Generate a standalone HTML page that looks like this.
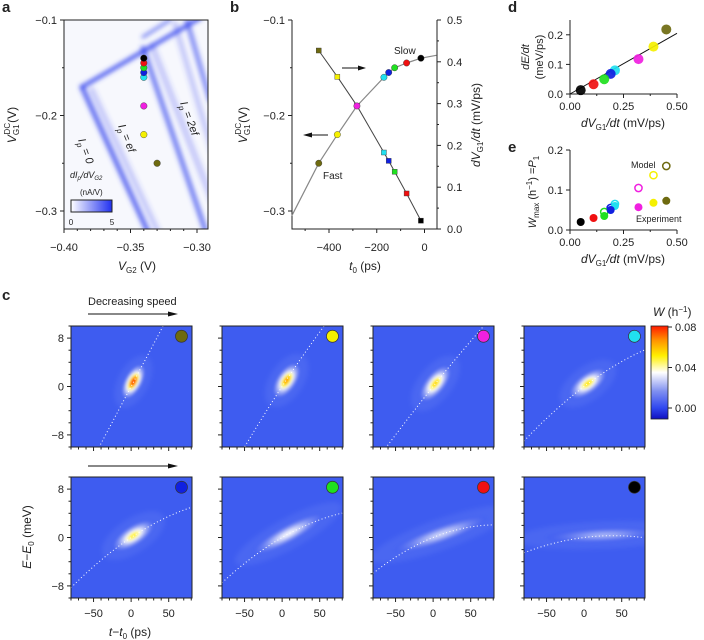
<!DOCTYPE html>
<html><head><meta charset="utf-8"><style>
html,body{margin:0;padding:0;background:#fff;}
svg{display:block;font-family:"Liberation Sans",sans-serif;}
text{fill:#222;}
</style></head><body>
<svg id="fig" width="704" height="640" viewBox="0 0 704 640" xmlns="http://www.w3.org/2000/svg">
<defs>
<filter id="blur1" x="-20%" y="-20%" width="140%" height="140%"><feGaussianBlur stdDeviation="1.2"/></filter>
<filter id="blur2" x="-20%" y="-20%" width="140%" height="140%"><feGaussianBlur stdDeviation="2.4"/></filter>
<linearGradient id="cbA" x1="0" x2="1" y1="0" y2="0"><stop offset="0" stop-color="#fff"/><stop offset="1" stop-color="#2030f0"/></linearGradient>
<linearGradient id="cbC" x1="0" x2="0" y1="1" y2="0">
<stop offset="0" stop-color="#1010c0"/><stop offset="0.12" stop-color="#3048f0"/><stop offset="0.3" stop-color="#8090f0"/>
<stop offset="0.5" stop-color="#ffffff"/><stop offset="0.68" stop-color="#fff000"/><stop offset="0.85" stop-color="#ff9000"/><stop offset="1" stop-color="#ff1a00"/></linearGradient>
</defs>
<g id="root"></g>
</svg>
<script>
// ---------- data ----------
const dotColors=['#6e6a10','#f5f000','#f020e0','#20e0f0','#1020e0','#20e020','#f01010','#000000'];
const aVG2=[-0.33,-0.34,-0.34,-0.34,-0.34,-0.34,-0.34,-0.34];
const aVG1=[-0.25,-0.22,-0.19,-0.16,-0.155,-0.15,-0.145,-0.14];
const bT0=[-443,-365,-283,-170,-150,-125,-75,-15];
const bVG1=[-0.25,-0.22,-0.19,-0.16,-0.155,-0.15,-0.145,-0.14];
const bRate=[0.427,0.364,0.295,0.183,0.163,0.137,0.085,0.02];
const bCurveT=[-556,-443,-365,-283,-170,-150,-125,-75,-15,50];
const bCurveV=[-0.305,-0.25,-0.22,-0.19,-0.16,-0.155,-0.15,-0.145,-0.14,-0.137];
const dRate=[0.45,0.39,0.32,0.21,0.19,0.16,0.11,0.05];
const dEdt=[0.218,0.16,0.118,0.08,0.068,0.05,0.033,0.013];
const eExp=[0.073,0.068,0.057,0.06,0.05,0.035,0.03,0.02];
const eModelRate=[0.45,0.39,0.32,0.21,0.19,0.16];
const eModel=[0.16,0.137,0.105,0.065,0.055,0.045];
// panel c (order: olive, yellow, magenta, cyan / blue, green, red, black)
const cSlope=[0.235,0.19,0.155,0.094,0.083,0.072,0.05,0.0156];
const cCurv=[0,-0.0002,-0.0001,-0.000234,-0.00026,-0.00027,-0.0003,-0.0002];
const blobT=[3,6,3,5,3,8,10,25];
const blobE=[0.8,1.0,0.5,0.5,0.3,0.6,0.5,0.4];
const blobPeak=[0.08,0.068,0.06,0.058,0.054,0.038,0.03,0.022];
const blobLen=[19,20,22,22,24,40,50,58];
const blobWid=[9,10,10,10,10,9,9,8];
const xTicksC=[-50,0,50];
const yTicksC=[-8,0,8];

const NS='http://www.w3.org/2000/svg';
const root=document.getElementById('root');
function mk(tag,attrs,parent,txt){const e=document.createElementNS(NS,tag);for(const k in attrs)e.setAttribute(k,attrs[k]);if(txt!==undefined)e.textContent=txt;(parent||root).appendChild(e);return e;}
function lin(d0,d1,p0,p1){return v=>p0+(v-d0)*(p1-p0)/(d1-d0);}
function fmt(v){return (v<0?'\u2212':'')+Math.abs(v).toString();}

[['a',2,12],['b',230,12],['c',2,300],['d',508,12],['e',508,152]].forEach(p=>{
 const t=mk('text',{x:p[1],y:p[2],'font-size':15,'font-weight':'bold'},root,p[0]);
 
 
});

// ---------- panel a ----------
const gA=mk('g',{});


const ax=lin(-0.40,-0.30,64,197), ay=lin(-0.1,-0.3,20,211);
mk('clipPath',{id:'clA'},document.querySelector('defs'));
mk('rect',{x:64,y:20,width:144,height:209},document.getElementById('clA'));
mk('rect',{x:64,y:20,width:144,height:209,fill:'#f7f8fd'},gA);
const bands=mk('g',{filter:'url(#blur2)',stroke:'#3848ee','stroke-linecap':'round',fill:'none','clip-path':'url(#clA)'},gA);


[[82,87,142,52,4,0.9],[142,52,200,18,4,0.9],[143,37,170,20,3,0.7],[82,87,148,232,5,0.8],[92,90,158,232,6,0.25],[143,48,206,232,5,0.7],[152,46,212,200,7,0.25],[187,21,210,100,5,0.6],[175,24,212,150,6,0.25]].forEach(l=>{
 mk('line',{x1:l[0],y1:l[1],x2:l[2],y2:l[3],'stroke-width':l[4],opacity:l[5]},bands);
});
mk('rect',{x:64,y:20,width:144,height:209,fill:'none',stroke:'#222','stroke-width':1},gA);
[-0.1,-0.2,-0.3].forEach(v=>{mk('line',{x1:60,x2:64,y1:ay(v),y2:ay(v),stroke:'#222'},gA);mk('text',{x:57,y:ay(v)+4,'font-size':11,'text-anchor':'end'},gA,fmt(v));});
for(let v=-0.1;v>=-0.31;v-=0.05){mk('line',{x1:62,x2:64,y1:ay(v),y2:ay(v),stroke:'#222'},gA);}
[-0.40,-0.35,-0.30].forEach(v=>{mk('line',{x1:ax(v),x2:ax(v),y1:229,y2:233,stroke:'#222'},gA);mk('text',{x:ax(v),y:251,'font-size':11,'text-anchor':'middle'},gA,fmt(v).replace(/(\.\d)$/,'$10'));});
for(let v=-0.39;v<-0.29;v+=0.01){mk('line',{x1:ax(v),x2:ax(v),y1:229,y2:231,stroke:'#222'},gA);}
let t=mk('text',{x:137,y:270,'font-size':12,'text-anchor':'middle'},gA);t.innerHTML='<tspan font-style="italic">V</tspan><tspan font-size="8" dy="3">G2</tspan><tspan dy="-3"> (V)</tspan>';
t=mk('text',{transform:'translate(16,125) rotate(-90)','font-size':12,'text-anchor':'middle'},gA);t.innerHTML='<tspan font-style="italic">V</tspan><tspan font-size="8" dy="3">G1</tspan><tspan font-size="8" dy="-9" dx="-10">DC</tspan><tspan dy="6">(V)</tspan>';
[['I','p = 0',78,140,70],['I','p = ef',118,126,68],['I','p = 2ef',180,103,70]].forEach(l=>{
 const tt=mk('text',{transform:`translate(${l[2]},${l[3]}) rotate(${l[4]})`,'font-size':11,'font-style':'italic'},gA);
 tt.innerHTML=`I<tspan font-size="8" dy="3">p</tspan><tspan dy="-3">${l[1].slice(1)}</tspan>`;
 
 
});
t=mk('text',{x:70,y:178,'font-size':9,'font-style':'italic'},gA);t.innerHTML='dI<tspan font-size="6" dy="2">p</tspan><tspan dy="-2">/dV</tspan><tspan font-size="6" dy="2">G2</tspan>';
mk('text',{x:80,y:195,'font-size':8},gA,'(nA/V)');
const cbA=mk('rect',{x:71,y:200,width:41,height:12,fill:'url(#cbA)',stroke:'#222'},gA);


mk('text',{x:71,y:225,'font-size':8,'text-anchor':'middle'},gA,'0');
mk('text',{x:112,y:225,'font-size':8,'text-anchor':'middle'},gA,'5');
aVG2.forEach((v,i)=>{
 const c=mk('circle',{cx:ax(v),cy:ay(aVG1[i]),r:3.3,fill:dotColors[i],stroke:'#333','stroke-width':0.4},gA);
 
 
});

// ---------- panel b ----------
const gB=mk('g',{});


const bx=lin(-400,0,329,424.5), by=lin(-0.1,-0.3,20,211), br=lin(0,0.5,229,20);
mk('path',{d:'M292,20 V229 H437 V20',fill:'none',stroke:'#222'},gB);
[-0.1,-0.2,-0.3].forEach(v=>{mk('line',{x1:288,x2:292,y1:by(v),y2:by(v),stroke:'#222'},gB);mk('text',{x:285,y:by(v)+4,'font-size':11,'text-anchor':'end'},gB,fmt(v));});
[-0.15,-0.25].forEach(v=>mk('line',{x1:290,x2:292,y1:by(v),y2:by(v),stroke:'#222'},gB));
[0,0.1,0.2,0.3,0.4,0.5].forEach(v=>{mk('line',{x1:437,x2:441,y1:br(v),y2:br(v),stroke:'#222'},gB);mk('text',{x:447,y:br(v)+4,'font-size':11},gB,v.toFixed(1));});
[0.05,0.15,0.25,0.35,0.45].forEach(v=>mk('line',{x1:437,x2:439,y1:br(v),y2:br(v),stroke:'#222'},gB));
[-400,-200,0].forEach(v=>{mk('line',{x1:bx(v),x2:bx(v),y1:229,y2:233,stroke:'#222'},gB);mk('text',{x:bx(v),y:251,'font-size':11,'text-anchor':'middle'},gB,fmt(v));});
[-500,-300,-100].forEach(v=>mk('line',{x1:bx(v),x2:bx(v),y1:229,y2:231,stroke:'#222'},gB));
t=mk('text',{x:365,y:270,'font-size':12,'text-anchor':'middle'},gB);t.innerHTML='<tspan font-style="italic">t</tspan><tspan font-size="8" dy="3">0</tspan><tspan dy="-3"> (ps)</tspan>';
t=mk('text',{transform:'translate(247,125) rotate(-90)','font-size':12,'text-anchor':'middle'},gB);t.innerHTML='<tspan font-style="italic">V</tspan><tspan font-size="8" dy="3">G1</tspan><tspan font-size="8" dy="-9" dx="-10">DC</tspan><tspan dy="6">(V)</tspan>';
t=mk('text',{transform:'translate(480,125) rotate(-90)','font-size':12,'text-anchor':'middle'},gB);t.innerHTML='<tspan font-style="italic">dV</tspan><tspan font-size="8" dy="3">G1</tspan><tspan dy="-3" font-style="italic">/dt</tspan><tspan> (mV/ps)</tspan>';
let dd='';bCurveT.forEach((v,i)=>{dd+=(i?'L':'M')+bx(v).toFixed(1)+','+by(bCurveV[i]).toFixed(1);});
const crv=mk('path',{d:dd,fill:'none',stroke:'#888','stroke-width':1.2,'stroke-linejoin':'round'},gB);


dd='';bT0.forEach((v,i)=>{dd+=(i?'L':'M')+bx(v).toFixed(1)+','+br(bRate[i]).toFixed(1);});
const rl=mk('path',{d:dd,fill:'none',stroke:'#444','stroke-width':1},gB);


bT0.forEach((v,i)=>{
 const s=mk('rect',{x:bx(v)-2.5,y:br(bRate[i])-2.5,width:5,height:5,fill:dotColors[i],stroke:'#333','stroke-width':0.4},gB);
 
 
 const c=mk('circle',{cx:bx(v),cy:by(bVG1[i]),r:3.2,fill:dotColors[i],stroke:'#333','stroke-width':0.4},gB);
 
 
});
mk('text',{x:394,y:54,'font-size':10},gB,'Slow');
mk('text',{x:323,y:179,'font-size':10},gB,'Fast');
mk('line',{x1:342,y1:68,x2:360,y2:68,stroke:'#111','stroke-width':1},gB);mk('path',{d:'M358,65.5 L366,68 L358,70.5Z',fill:'#111'},gB);
mk('line',{x1:310,y1:135,x2:328,y2:135,stroke:'#111','stroke-width':1},gB);mk('path',{d:'M312,132.5 L303,135 L312,137.5Z',fill:'#111'},gB);

// ---------- panel d & e ----------
function smallAxes(g,yTop,yBot,yMax,yTicks,yFmt){
 const sx=lin(0,0.5,570,677), sy=lin(0,yMax,yBot,yTop);
 mk('path',{d:`M570,${yTop} V${yBot} H677`,fill:'none',stroke:'#222'},g);
 yTicks.forEach(v=>{mk('line',{x1:566,x2:570,y1:sy(v),y2:sy(v),stroke:'#222'},g);mk('text',{x:563,y:sy(v)+4,'font-size':11,'text-anchor':'end'},g,yFmt(v));});
 [0,0.25,0.5].forEach(v=>{mk('line',{x1:sx(v),x2:sx(v),y1:yBot,y2:yBot+4,stroke:'#222'},g);mk('text',{x:sx(v),y:yBot+16,'font-size':11,'text-anchor':'middle'},g,v.toFixed(2));});
 [0.125,0.375].forEach(v=>mk('line',{x1:sx(v),x2:sx(v),y1:yBot,y2:yBot+2,stroke:'#222'},g));
 const tt=mk('text',{x:623,y:yBot+33,'font-size':12,'text-anchor':'middle'},g);tt.innerHTML='<tspan font-style="italic">dV</tspan><tspan font-size="8" dy="3">G1</tspan><tspan dy="-3" font-style="italic">/dt</tspan> (mV/ps)';
 return [sx,sy];
}
const gD=mk('g',{});


const [dx,dy]=smallAxes(gD,20,94,0.25,[0,0.1,0.2],v=>v.toFixed(1));
mk('text',{transform:'translate(529,57) rotate(-90)','font-size':11,'text-anchor':'middle','font-style':'italic'},gD,'dE/dt');
mk('text',{transform:'translate(543,57) rotate(-90)','font-size':11,'text-anchor':'middle'},gD,'(meV/ps)');
const fitSlope=0.41;
const fl=mk('line',{x1:dx(0),y1:dy(0),x2:dx(0.5),y2:dy(0.5*fitSlope),stroke:'#111','stroke-width':1},gD);


dRate.forEach((v,i)=>{
 const c=mk('circle',{cx:dx(v),cy:dy(dEdt[i]),r:5,fill:dotColors[i],opacity:0.92},gD);
 
 
});
const gE=mk('g',{});


const [ex,ey]=smallAxes(gE,150,230,0.2,[0,0.1,0.2],v=>v.toFixed(1));
t=mk('text',{transform:'translate(536,192) rotate(-90)','font-size':11,'text-anchor':'middle'},gE);
t.innerHTML='<tspan font-style="italic">W</tspan><tspan font-size="8" dy="3">max</tspan><tspan dy="-3"> (h</tspan><tspan font-size="8" dy="-4">−1</tspan><tspan dy="4">) =</tspan><tspan font-style="italic">P</tspan><tspan font-size="8" dy="3">1</tspan>';
eModelRate.forEach((v,i)=>{
 const c=mk('circle',{cx:ex(v),cy:ey(eModel[i]),r:3.6,fill:'none',stroke:dotColors[i],'stroke-width':1.5},gE);
 
 
});
dRate.forEach((v,i)=>{
 const c=mk('circle',{cx:ex(v),cy:ey(eExp[i]),r:4,fill:dotColors[i]},gE);
 
 
});
mk('text',{x:631,y:168,'font-size':9},gE,'Model');
mk('text',{x:636,y:222,'font-size':9},gE,'Experiment');

// ---------- panel c ----------
function cmap(v){
 const st=[[-0.005,[16,16,192]],[0.0,[48,72,240]],[0.006,[62,92,240]],[0.02,[150,165,245]],[0.04,[255,255,255]],[0.055,[255,240,0]],[0.068,[255,150,0]],[0.08,[255,30,0]]];
 if(v<=st[0][0])return 'rgb('+st[0][1]+')';
 for(let i=1;i<st.length;i++){if(v<=st[i][0]){const f=(v-st[i-1][0])/(st[i][0]-st[i-1][0]);const a=st[i-1][1],b=st[i][1];return 'rgb('+a.map((x,j)=>Math.round(x+(b[j]-x)*f)).join(',')+')';}}
 return 'rgb('+st[st.length-1][1]+')';
}
const defs=document.querySelector('defs');
const colX=[71,222,373,524], rowY=[326,477];
const W=121,H=121;
const gC=mk('g',{});


for(let k=0;k<8;k++){
 const x0=colX[k%4], y0=rowY[Math.floor(k/4)];
 const px=lin(-80,81,x0,x0+W), py=lin(-10,10,y0+H,y0);
 const g=mk('g',{},gC);
 
 
 const cp=mk('clipPath',{id:'cl'+k},defs);
 mk('rect',{x:x0,y:y0,width:W,height:H},cp);
 mk('rect',{x:x0,y:y0,width:W,height:H,fill:'rgb(62,92,240)'},g);
 const gi=mk('g',{'clip-path':`url(#cl${k})`},g);
 const gr=mk('radialGradient',{id:'bl'+k},defs);
 for(let s=0;s<=10;s++){const o=s/10;const v=s==10?0.006:0.006+(blobPeak[k]-0.006)*Math.exp(-3*o*o);
  mk('stop',{offset:o,'stop-color':cmap(v),'stop-opacity':s==10?0:1},gr);}
 const ang=-Math.atan((cSlope[k]+2*cCurv[k]*blobT[k])*(H/20)/(W/161))*180/Math.PI;
 const bcx=px(blobT[k]), bcy=py(blobE[k]);
 mk('ellipse',{cx:bcx,cy:bcy,rx:blobLen[k]*1.5,ry:blobWid[k]*1.7,fill:'rgba(140,160,245,0.15)',transform:`rotate(${ang} ${bcx} ${bcy})`,filter:'url(#blur2)'},gi);
 const el=mk('ellipse',{cx:bcx,cy:bcy,rx:blobLen[k],ry:blobWid[k],fill:`url(#bl${k})`,transform:`rotate(${ang} ${bcx} ${bcy})`,filter:'url(#blur1)'},gi);
 
 
 let d='';for(let tt=-80;tt<=81;tt+=2){const E=cSlope[k]*tt+cCurv[k]*tt*tt;d+=(d?'L':'M')+px(tt).toFixed(1)+','+py(E).toFixed(1);}
 const dl=mk('path',{d:d,fill:'none',stroke:'#fff','stroke-width':1,'stroke-dasharray':'1 2.5'},gi);
 
 
 mk('rect',{x:x0,y:y0,width:W,height:H,fill:'none',stroke:'#222'},g);
 const mc=mk('circle',{cx:px(67),cy:py(8.3),r:6,fill:dotColors[k],stroke:'#333','stroke-width':0.7},g);
 
 
 for(let e=-10;e<=10;e+=2){const maj=yTicksC.includes(e);mk('line',{x1:x0-(maj?4:2.5),x2:x0,y1:py(e),y2:py(e),stroke:'#222'},g);}
 for(let tt=-80;tt<=80;tt+=10){const maj=xTicksC.includes(tt);mk('line',{x1:px(tt),x2:px(tt),y1:y0+H,y2:y0+H+(maj?4:2.5),stroke:'#222'},g);}
 if(k%4==0)yTicksC.forEach(e=>mk('text',{x:x0-7,y:py(e)+4,'font-size':11,'text-anchor':'end'},g,fmt(e)));
 if(k>=4)xTicksC.forEach(tt=>mk('text',{x:px(tt),y:y0+H+19,'font-size':11,'text-anchor':'middle'},g,fmt(tt)));
}
t=mk('text',{transform:'translate(31,537) rotate(-90)','font-size':12,'text-anchor':'middle'},gC);t.innerHTML='<tspan font-style="italic">E</tspan>−<tspan font-style="italic">E</tspan><tspan font-size="8" dy="3">0</tspan><tspan dy="-3"> (meV)</tspan>';
t=mk('text',{x:130,y:636,'font-size':12,'text-anchor':'middle'},gC);t.innerHTML='<tspan font-style="italic">t</tspan>−<tspan font-style="italic">t</tspan><tspan font-size="8" dy="3">0</tspan><tspan dy="-3"> (ps)</tspan>';
mk('text',{x:88,y:305,'font-size':11},gC,'Decreasing speed');
[314,466].forEach(y=>{mk('line',{x1:88,y1:y,x2:172,y2:y,stroke:'#111'},gC);mk('path',{d:`M168,${y-2.5} L178,${y} L168,${y+2.5}Z`,fill:'#111'},gC);});
const cbC=mk('rect',{x:651,y:326,width:17,height:93,fill:'url(#cbC)',stroke:'#222','stroke-width':0.8},gC);


const cy=lin(0,0.08,408,327);
[0,0.04,0.08].forEach(v=>{mk('line',{x1:668,x2:672,y1:cy(v),y2:cy(v),stroke:'#222'},gC);mk('text',{x:675,y:cy(v)+4,'font-size':11},gC,v.toFixed(2));});
t=mk('text',{x:653,y:316,'font-size':12},gC);t.innerHTML='<tspan font-style="italic">W</tspan> (h<tspan font-size="8" dy="-4">−1</tspan><tspan dy="4">)</tspan>';
</script>
</body></html>
